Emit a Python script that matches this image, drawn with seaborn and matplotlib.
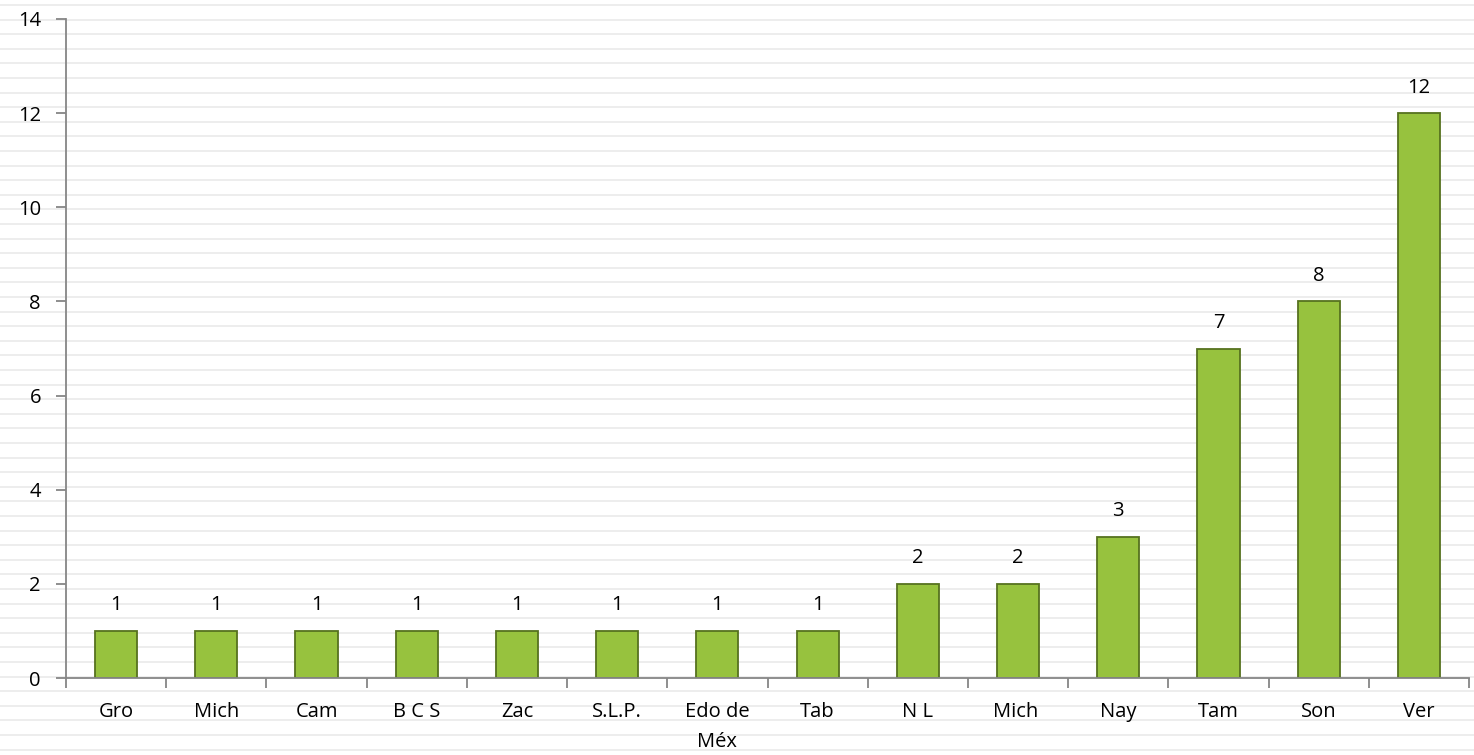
import numpy as np
import pandas as pd
import seaborn as sns
import matplotlib.pyplot as plt
from matplotlib.lines import Line2D

# Data
states = ['Gro', 'Mich', 'Cam', 'B C S', 'Zac', 'S.L.P.', 'Edo de\nMéx', 'Tab',
          'N L', 'Mich ', 'Nay', 'Tam', 'Son', 'Ver']
counts = [1, 1, 1, 1, 1, 1, 1, 1, 2, 2, 3, 7, 8, 12]
y_ticks = [0, 2, 4, 6, 8, 10, 12, 14]

sns.set_style('white')
plt.rcParams['font.family'] = ['Open Sans', 'DejaVu Sans']

df = pd.DataFrame({'state': states, 'count': counts})

fig = plt.figure(figsize=(14.74, 7.55), dpi=100)
W, H = 1474, 755

# faint striped background like the original slide
for y in np.arange(5, H, 14.6):
    fig.add_artist(Line2D([0, 1], [1 - y / H, 1 - y / H], color='#ececec',
                          linewidth=1.3, zorder=0))

ax = fig.add_axes([66 / W, 1 - 678 / H, (1469 - 66) / W, (678 - 19) / H])
ax.patch.set_alpha(0)

sns.barplot(data=df, x='state', y='count', color='#97c23e', width=0.42,
            edgecolor='#56721f', linewidth=1.3, saturation=1, ax=ax)

for i, v in enumerate(counts):
    ax.text(i, v + 0.33, str(v), ha='center', va='bottom', fontsize=14.5, color='black')

ax.set_ylim(0, 14)
ax.set_xlim(-0.5, len(states) - 0.5)
ax.set_yticks(y_ticks)
ax.set_xticks(range(len(states)))
ax.set_xticklabels(states, linespacing=1.7)
ax.set_xlabel('')
ax.set_ylabel('')

# ticks between categories on the x axis
ax.set_xticks(np.arange(-0.5, len(states), 1), minor=True)
ax.tick_params(axis='x', which='major', bottom=False, length=0, labelsize=14.5,
               labelcolor='black', pad=17)
ax.tick_params(axis='x', which='minor', bottom=True, length=7, width=1.3,
               color='#868686', direction='out')
ax.tick_params(axis='y', left=True, length=7, width=1.3, color='#868686',
               labelsize=14.5, labelcolor='black', pad=11, direction='out')

for s in ['top', 'right']:
    ax.spines[s].set_visible(False)
for s in ['left', 'bottom']:
    ax.spines[s].set_color('#868686')
    ax.spines[s].set_linewidth(1.3)

fig.savefig('out.png', dpi=100)
